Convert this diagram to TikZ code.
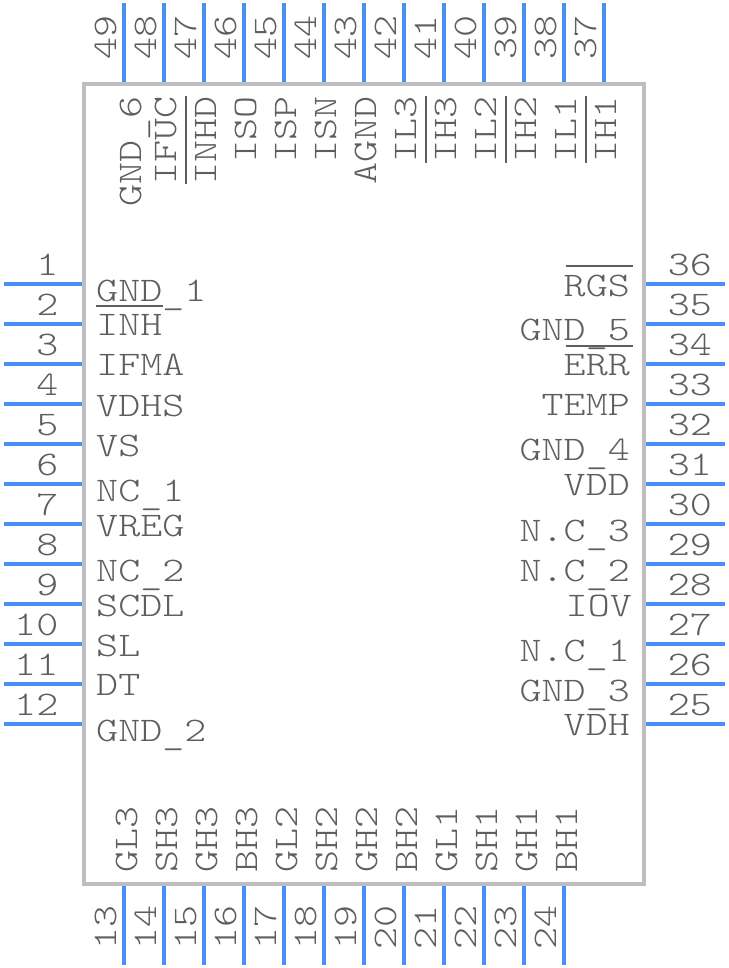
\documentclass[tikz,border=0pt]{standalone}
\usepackage{fontspec}
\newfontfamily\padfont{Latin Modern Mono Light}
\newcommand{\us}{\smash{\raisebox{-3pt}{\_}}}
\definecolor{leadblue}{HTML}{4A8FF8}
\definecolor{bodygray}{HTML}{BEBEBE}
\definecolor{textgray}{HTML}{5E5E5E}
\begin{document}
\begin{tikzpicture}[x=1pt,y=-1pt,
lead/.style={draw=leadblue,line width=4pt},
body/.style={draw=bodygray,line width=4pt,minimum width=560pt,minimum height=800pt,inner sep=0pt},
bar/.style={draw=textgray,line width=2pt},
txt/.style={inner sep=0pt,text=textgray,font=\padfont\fontsize{34.5}{37}\selectfont},
lbl left/.style={txt,anchor=base west,xscale=1.215,transform shape},
lbl right/.style={txt,anchor=base east,xscale=1.215,transform shape},
lbl up/.style={txt,anchor=base west,rotate=90,xscale=1.215,transform shape},
lbl down/.style={txt,anchor=base east,rotate=90,xscale=1.215,transform shape}]
\useasboundingbox (0,0) rectangle (728,968);

\node[body] (chip) at (364,484) {};

% left leads
\draw[lead] (3.5,284) -- (82,284);
\draw[lead] (3.5,324) -- (82,324);
\draw[lead] (3.5,364) -- (82,364);
\draw[lead] (3.5,404) -- (82,404);
\draw[lead] (3.5,444) -- (82,444);
\draw[lead] (3.5,484) -- (82,484);
\draw[lead] (3.5,524) -- (82,524);
\draw[lead] (3.5,564) -- (82,564);
\draw[lead] (3.5,604) -- (82,604);
\draw[lead] (3.5,644) -- (82,644);
\draw[lead] (3.5,684) -- (82,684);
\draw[lead] (3.5,724) -- (82,724);
% bottom leads
\draw[lead] (124,886) -- (124,964.5);
\draw[lead] (164,886) -- (164,964.5);
\draw[lead] (204,886) -- (204,964.5);
\draw[lead] (244,886) -- (244,964.5);
\draw[lead] (284,886) -- (284,964.5);
\draw[lead] (324,886) -- (324,964.5);
\draw[lead] (364,886) -- (364,964.5);
\draw[lead] (404,886) -- (404,964.5);
\draw[lead] (444,886) -- (444,964.5);
\draw[lead] (484,886) -- (484,964.5);
\draw[lead] (524,886) -- (524,964.5);
\draw[lead] (564,886) -- (564,964.5);
% right leads
\draw[lead] (646,724) -- (724.5,724);
\draw[lead] (646,684) -- (724.5,684);
\draw[lead] (646,644) -- (724.5,644);
\draw[lead] (646,604) -- (724.5,604);
\draw[lead] (646,564) -- (724.5,564);
\draw[lead] (646,524) -- (724.5,524);
\draw[lead] (646,484) -- (724.5,484);
\draw[lead] (646,444) -- (724.5,444);
\draw[lead] (646,404) -- (724.5,404);
\draw[lead] (646,364) -- (724.5,364);
\draw[lead] (646,324) -- (724.5,324);
\draw[lead] (646,284) -- (724.5,284);
% top leads
\draw[lead] (604,3.5) -- (604,82);
\draw[lead] (564,3.5) -- (564,82);
\draw[lead] (524,3.5) -- (524,82);
\draw[lead] (484,3.5) -- (484,82);
\draw[lead] (444,3.5) -- (444,82);
\draw[lead] (404,3.5) -- (404,82);
\draw[lead] (364,3.5) -- (364,82);
\draw[lead] (324,3.5) -- (324,82);
\draw[lead] (284,3.5) -- (284,82);
\draw[lead] (244,3.5) -- (244,82);
\draw[lead] (204,3.5) -- (204,82);
\draw[lead] (164,3.5) -- (164,82);
\draw[lead] (124,3.5) -- (124,82);

% pad numbers
\node[lbl right] (n1) at (58.5,275) {1};
\node[lbl right] (n2) at (58.5,315) {2};
\node[lbl right] (n3) at (58.5,355) {3};
\node[lbl right] (n4) at (58.5,395) {4};
\node[lbl right] (n5) at (58.5,435) {5};
\node[lbl right] (n6) at (58.5,475) {6};
\node[lbl right] (n7) at (58.5,515) {7};
\node[lbl right] (n8) at (58.5,555) {8};
\node[lbl right] (n9) at (58.5,595) {9};
\node[lbl right] (n10) at (58.5,635) {10};
\node[lbl right] (n11) at (58.5,675) {11};
\node[lbl right] (n12) at (58.5,715) {12};
\node[lbl up] (n13) at (116,950) {13};
\node[lbl up] (n14) at (156,950) {14};
\node[lbl up] (n15) at (196,950) {15};
\node[lbl up] (n16) at (236,950) {16};
\node[lbl up] (n17) at (276,950) {17};
\node[lbl up] (n18) at (316,950) {18};
\node[lbl up] (n19) at (356,950) {19};
\node[lbl up] (n20) at (396,950) {20};
\node[lbl up] (n21) at (436,950) {21};
\node[lbl up] (n22) at (476,950) {22};
\node[lbl up] (n23) at (516,950) {23};
\node[lbl up] (n24) at (556,950) {24};
\node[lbl left] (n25) at (667.5,715) {25};
\node[lbl left] (n26) at (667.5,675) {26};
\node[lbl left] (n27) at (667.5,635) {27};
\node[lbl left] (n28) at (667.5,595) {28};
\node[lbl left] (n29) at (667.5,555) {29};
\node[lbl left] (n30) at (667.5,515) {30};
\node[lbl left] (n31) at (667.5,475) {31};
\node[lbl left] (n32) at (667.5,435) {32};
\node[lbl left] (n33) at (667.5,395) {33};
\node[lbl left] (n34) at (667.5,355) {34};
\node[lbl left] (n35) at (667.5,315) {35};
\node[lbl left] (n36) at (667.5,275) {36};
\node[lbl up] (n37) at (596,60) {37};
\node[lbl up] (n38) at (556,60) {38};
\node[lbl up] (n39) at (516,60) {39};
\node[lbl up] (n40) at (476,60) {40};
\node[lbl up] (n41) at (436,60) {41};
\node[lbl up] (n42) at (396,60) {42};
\node[lbl up] (n43) at (356,60) {43};
\node[lbl up] (n44) at (316,60) {44};
\node[lbl up] (n45) at (276,60) {45};
\node[lbl up] (n46) at (236,60) {46};
\node[lbl up] (n47) at (196,60) {47};
\node[lbl up] (n48) at (156,60) {48};
\node[lbl up] (n49) at (116,60) {49};

% left names
\node[lbl left] (l1) at (96,301) {GND\us1};
\node[lbl left] (l2) at (96,335) {INH};
\node[lbl left] (l3) at (96,375) {IFMA};
\node[lbl left] (l4) at (96,416) {VDHS};
\node[lbl left] (l5) at (96,456) {VS};
\node[lbl left] (l6) at (96,501) {NC\us1};
\node[lbl left] (l7) at (96,536) {VREG};
\node[lbl left] (l8) at (96,581) {NC\us2};
\node[lbl left] (l9) at (96,616) {SCDL};
\node[lbl left] (l10) at (96,656) {SL};
\node[lbl left] (l11) at (96,695) {DT};
\node[lbl left] (l12) at (96,741) {GND\us2};
% bottom names
\node[lbl up] (l13) at (137,873) {GL3};
\node[lbl up] (l14) at (177,873) {SH3};
\node[lbl up] (l15) at (217,873) {GH3};
\node[lbl up] (l16) at (257,873) {BH3};
\node[lbl up] (l17) at (297,873) {GL2};
\node[lbl up] (l18) at (337,873) {SH2};
\node[lbl up] (l19) at (377,873) {GH2};
\node[lbl up] (l20) at (417,873) {BH2};
\node[lbl up] (l21) at (457,873) {GL1};
\node[lbl up] (l22) at (497,873) {SH1};
\node[lbl up] (l23) at (537,873) {GH1};
\node[lbl up] (l24) at (577,873) {BH1};
% right names
\node[lbl right] (l25) at (630,735) {VDH};
\node[lbl right] (l26) at (630,701) {GND\us3};
\node[lbl right] (l27) at (630,661) {N.C\us1};
\node[lbl right] (l28) at (632,616) {IOV};
\node[lbl right] (l29) at (630,581) {N.C\us2};
\node[lbl right] (l30) at (630,541) {N.C\us3};
\node[lbl right] (l31) at (630,495) {VDD};
\node[lbl right] (l32) at (630,460) {GND\us4};
\node[lbl right] (l33) at (630,415) {TEMP};
\node[lbl right] (l34) at (630,375) {ERR};
\node[lbl right] (l35) at (630,340) {GND\us5};
\node[lbl right] (l36) at (630,296) {RGS};
% top names
\node[lbl down] (l37) at (616,96) {IH1};
\node[lbl down] (l38) at (576,96) {IL1};
\node[lbl down] (l39) at (536,96) {IH2};
\node[lbl down] (l40) at (496,96) {IL2};
\node[lbl down] (l41) at (456,96) {IH3};
\node[lbl down] (l42) at (416,96) {IL3};
\node[lbl down] (l43) at (376,96) {AGND};
\node[lbl down] (l44) at (336,96) {ISN};
\node[lbl down] (l45) at (296,96) {ISP};
\node[lbl down] (l46) at (256,96) {ISO};
\node[lbl down] (l47) at (216,96) {INHD};
\node[lbl down] (l48) at (176,96) {IFUC};
\node[lbl down] (l49) at (141,96) {GND\us6};

% active low bars
\draw[bar] (96,306) -- (163,306);
\draw[bar] (566,266) -- (633,266);
\draw[bar] (566,346) -- (633,346);
\draw[bar] (186,96) -- (186,184);
\draw[bar] (426,96) -- (426,163);
\draw[bar] (506,96) -- (506,163);
\draw[bar] (586,96) -- (586,163);

\end{tikzpicture}
\end{document}
